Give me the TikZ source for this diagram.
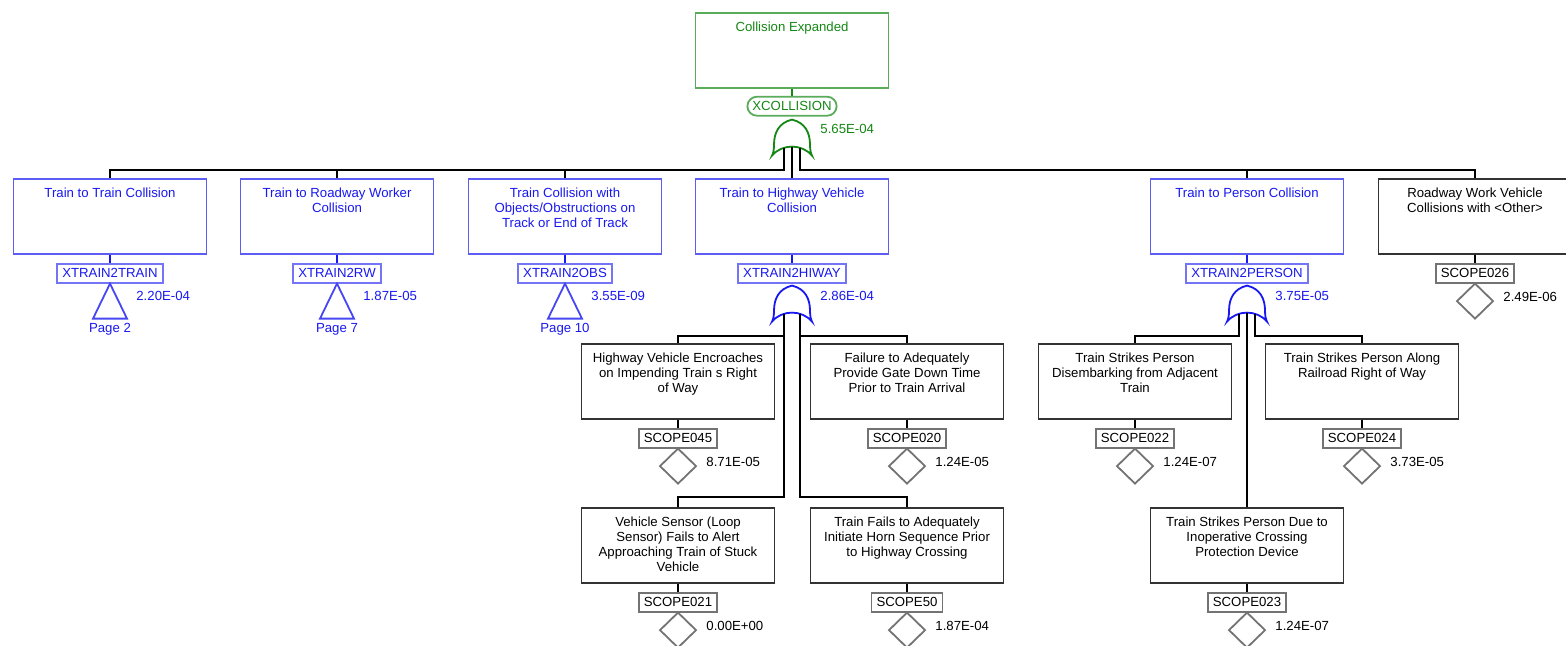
\documentclass[tikz,border=0pt]{standalone}
\usepackage{fontspec}
\setmainfont{Liberation Sans}
\usetikzlibrary{positioning,calc}
\definecolor{ftblue}{RGB}{24,24,240}
\definecolor{ftgreen}{RGB}{20,135,20}
\newcommand{\evtext}[1]{\parbox[c][37.5pt][t]{94pt}{\centering\rule{0pt}{9.5pt}#1}}

\begin{document}
\begin{tikzpicture}[x=0.5pt, y=-0.5pt, font=\fontsize{6.6}{7.5}\selectfont, node distance=4pt,
  ev/.style={draw=black!80, line width=0.9pt, inner sep=0pt, minimum width=96.5pt, minimum height=37.5pt, anchor=north},
  evb/.style={ev, draw=ftblue!70, text=ftblue},
  evg/.style={ev, draw=ftgreen!70, text=ftgreen},
  tagbox/.style={draw=black!55, line width=0.9pt, inner xsep=2.5pt, inner ysep=0pt, minimum height=9.5pt},
  tagb/.style={tagbox, draw=ftblue!60, text=ftblue},
  tagg/.style={tagbox, draw=ftgreen!70, text=ftgreen, rounded corners=4.75pt},
  val/.style={anchor=west, inner sep=0pt},
  wire/.style={line width=0.9pt},
  dia/.style={draw=black!55, line width=0.9pt},
  xfer/.style={draw=ftblue!80, line width=0.9pt},
  orgate/.pic={
    \draw[line width=0.9pt] (0,0) .. controls (13,3) and (18,13) .. (18,25)
      .. controls (18,31) and (19,34) .. (20,36)
      .. controls (10,24) and (-10,24) .. (-20,36)
      .. controls (-19,34) and (-18,31) .. (-18,25)
      .. controls (-18,13) and (-13,3) .. cycle;
    \coordinate (-l) at (-8,28.3);
    \coordinate (-c) at (0,27);
    \coordinate (-r) at (8,28.3);
  }]
\useasboundingbox (0,0) rectangle (1566,645);

% top event
\node[evg] (top) at (792,12) {\evtext{Collision Expanded}};
\node[tagg, below=3.5pt of top] (xc) {XCOLLISION};
\pic[color=ftgreen] (g0) at ([yshift=-1.5pt]xc.south) {orgate};
\node[val, text=ftgreen] (v0) at ([xshift=14pt,yshift=-6pt]xc.south) {5.65E-04};
\draw[wire, ftgreen] (top) -- (xc);

% first level
\node[evb] (t2t) at (110,178) {\evtext{Train to Train Collision}};
\node[evb] (t2rw) at (337,178) {\evtext{Train to Roadway Worker\\Collision}};
\node[evb] (t2obs) at (565,178) {\evtext{Train Collision with\\Objects/Obstructions on\\Track or End of Track}};
\node[evb] (t2hw) at (792,178) {\evtext{Train to Highway Vehicle\\Collision}};
\node[evb] (t2p) at (1247,178) {\evtext{Train to Person Collision}};
\node[ev] (rwv) at (1475,178) {\evtext{Roadway Work Vehicle\\Collisions with <Other>}};

\node[tagb, below=of t2t] (x1) {XTRAIN2TRAIN};
\node[tagb, below=of t2rw] (x2) {XTRAIN2RW};
\node[tagb, below=of t2obs] (x3) {XTRAIN2OBS};
\node[tagb, below=of t2hw] (x4) {XTRAIN2HIWAY};
\node[tagb, below=of t2p] (x5) {XTRAIN2PERSON};
\node[tagbox, below=of rwv] (s26) {SCOPE026};

\draw[wire, ftblue] (t2t) -- (x1);
\draw[wire, ftblue] (t2rw) -- (x2);
\draw[wire, ftblue] (t2obs) -- (x3);
\draw[wire, ftblue] (t2hw) -- (x4);
\draw[wire, ftblue] (t2p) -- (x5);
\draw[wire] (rwv) -- (s26);

\draw[wire] (g0-l) |- ([yshift=4pt]t2t.north) -- (t2t.north);
\draw[wire] (g0-l) |- ([yshift=4pt]t2rw.north) -- (t2rw.north);
\draw[wire] (g0-l) |- ([yshift=4pt]t2obs.north) -- (t2obs.north);
\draw[wire] (g0-c) -- (t2hw.north);
\draw[wire] (g0-r) |- ([yshift=4pt]t2p.north) -- (t2p.north);
\draw[wire] (g0-r) |- ([yshift=4pt]rwv.north) -- (rwv.north);

% transfers
\draw[xfer] (x1.south) -- ++(17,35) -- ++(-34,0) -- cycle;
\draw[xfer] (x2.south) -- ++(17,35) -- ++(-34,0) -- cycle;
\draw[xfer] (x3.south) -- ++(17,35) -- ++(-34,0) -- cycle;
\node[text=ftblue, inner sep=0pt] (pg1) at ([yshift=-23pt]x1.south) {Page 2};
\node[text=ftblue, inner sep=0pt] (pg2) at ([yshift=-23pt]x2.south) {Page 7};
\node[text=ftblue, inner sep=0pt] (pg3) at ([yshift=-23pt]x3.south) {Page 10};
\node[val, text=ftblue] (v1) at ([xshift=13pt,yshift=-6pt]x1.south) {2.20E-04};
\node[val, text=ftblue] (v2) at ([xshift=13pt,yshift=-6pt]x2.south) {1.87E-05};
\node[val, text=ftblue] (v3) at ([xshift=13pt,yshift=-6pt]x3.south) {3.55E-09};

% gates
\pic[color=ftblue] (g1) at ([yshift=-1pt]x4.south) {orgate};
\pic[color=ftblue] (g2) at ([yshift=-1pt]x5.south) {orgate};
\node[val, text=ftblue] (v4) at ([xshift=14pt,yshift=-6pt]x4.south) {2.86E-04};
\node[val, text=ftblue] (v5) at ([xshift=14pt,yshift=-6pt]x5.south) {3.75E-05};

\draw[dia] (s26.south) -- ++(18,17.5) -- ++(-18,17.5) -- ++(-18,-17.5) -- cycle;
\node[val] (v26) at ([xshift=14pt,yshift=-6.5pt]s26.south) {2.49E-06};

% highway vehicle branch
\node[ev] (hw1) at (678,343) {\evtext{Highway Vehicle Encroaches\\on Impending Train s Right\\of Way}};
\node[ev] (hw2) at (907,343) {\evtext{Failure to Adequately\\Provide Gate Down Time\\Prior to Train Arrival}};
\node[ev] (hw3) at (678,507) {\evtext{Vehicle Sensor (Loop\\Sensor) Fails to Alert\\Approaching Train of Stuck\\Vehicle}};
\node[ev] (hw4) at (907,507) {\evtext{Train Fails to Adequately\\Initiate Horn Sequence Prior\\to Highway Crossing}};

\node[tagbox, below=of hw1] (s45) {SCOPE045};
\node[tagbox, below=of hw2] (s20) {SCOPE020};
\node[tagbox, below=of hw3] (s21) {SCOPE021};
\node[tagbox, below=of hw4] (s50) {SCOPE50};

\draw[wire] (hw1) -- (s45);
\draw[wire] (hw2) -- (s20);
\draw[wire] (hw3) -- (s21);
\draw[wire] (hw4) -- (s50);

\draw[wire] (g1-l) |- ([yshift=3.5pt]hw1.north) -- (hw1.north);
\draw[wire] (g1-l) |- ([yshift=5pt]hw3.north) -- (hw3.north);
\draw[wire] (g1-r) |- ([yshift=3.5pt]hw2.north) -- (hw2.north);
\draw[wire] (g1-r) |- ([yshift=5pt]hw4.north) -- (hw4.north);

\draw[dia] (s45.south) -- ++(18,17.5) -- ++(-18,17.5) -- ++(-18,-17.5) -- cycle;
\draw[dia] (s20.south) -- ++(18,17.5) -- ++(-18,17.5) -- ++(-18,-17.5) -- cycle;
\draw[dia] (s21.south) -- ++(18,17.5) -- ++(-18,17.5) -- ++(-18,-17.5) -- cycle;
\draw[dia] (s50.south) -- ++(18,17.5) -- ++(-18,17.5) -- ++(-18,-17.5) -- cycle;
\node[val] (v45) at ([xshift=14pt,yshift=-6.5pt]s45.south) {8.71E-05};
\node[val] (v20) at ([xshift=14pt,yshift=-6.5pt]s20.south) {1.24E-05};
\node[val] (v21) at ([xshift=14pt,yshift=-6.5pt]s21.south) {0.00E+00};
\node[val] (v50) at ([xshift=14pt,yshift=-6.5pt]s50.south) {1.87E-04};

% person branch
\node[ev] (ps1) at (1135,343) {\evtext{Train Strikes Person\\Disembarking from Adjacent\\Train}};
\node[ev] (ps2) at (1362,343) {\evtext{Train Strikes Person Along\\Railroad Right of Way}};
\node[ev] (ps3) at (1247,507) {\evtext{Train Strikes Person Due to\\Inoperative Crossing\\Protection Device}};

\node[tagbox, below=of ps1] (s22) {SCOPE022};
\node[tagbox, below=of ps2] (s24) {SCOPE024};
\node[tagbox, below=of ps3] (s23) {SCOPE023};

\draw[wire] (ps1) -- (s22);
\draw[wire] (ps2) -- (s24);
\draw[wire] (ps3) -- (s23);

\draw[wire] (g2-l) |- ([yshift=3.5pt]ps1.north) -- (ps1.north);
\draw[wire] (g2-c) -- (ps3.north);
\draw[wire] (g2-r) |- ([yshift=3.5pt]ps2.north) -- (ps2.north);

\draw[dia] (s22.south) -- ++(18,17.5) -- ++(-18,17.5) -- ++(-18,-17.5) -- cycle;
\draw[dia] (s24.south) -- ++(18,17.5) -- ++(-18,17.5) -- ++(-18,-17.5) -- cycle;
\draw[dia] (s23.south) -- ++(18,17.5) -- ++(-18,17.5) -- ++(-18,-17.5) -- cycle;
\node[val] (v22) at ([xshift=14pt,yshift=-6.5pt]s22.south) {1.24E-07};
\node[val] (v24) at ([xshift=14pt,yshift=-6.5pt]s24.south) {3.73E-05};
\node[val] (v23) at ([xshift=14pt,yshift=-6.5pt]s23.south) {1.24E-07};
\end{tikzpicture}
\end{document}
